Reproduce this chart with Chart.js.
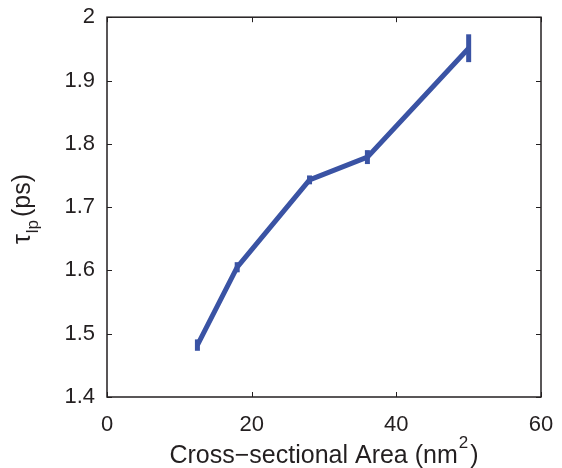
<!DOCTYPE html>
<html>
<head>
<meta charset="utf-8">
<script src="https://cdn.jsdelivr.net/npm/chart.js@4/dist/chart.umd.min.js"></script>
<style>
  html, body { margin: 0; padding: 0; background: #fff; }
  #wrap { width: 562px; height: 468px; }
</style>
</head>
<body>
<div id="wrap"><canvas id="tau_area" width="562" height="468"></canvas></div>
<script>
// dados
const areas = [12.5, 18, 28, 36, 50];
const tauLp = [1.482, 1.605, 1.743, 1.779, 1.951];
const tauErr = [0.009, 0.008, 0.007, 0.011, 0.022];
const xTicks = [0, 20, 40, 60];
const yTicks = [1.4, 1.5, 1.6, 1.7, 1.8, 1.9, 2.0];

const lineColor = '#3a53a4';
const axisColor = '#231f20';
const fontFam = '"Liberation Sans", Arial, Helvetica, sans-serif';

document.addEventListener('DOMContentLoaded', () => {
  const ctx = document.getElementById('tau_area');

  // barras de erro verticais
  const errorBars = {
    id: 'errorBars',
    afterDatasetsDraw(chart) {
      const c = chart.ctx, xs = chart.scales.x, ys = chart.scales.y;
      c.save();
      c.strokeStyle = lineColor;
      c.lineWidth = 5;
      areas.forEach((a, i) => {
        const px = xs.getPixelForValue(a);
        c.beginPath();
        c.moveTo(px, ys.getPixelForValue(tauLp[i] - tauErr[i]));
        c.lineTo(px, ys.getPixelForValue(tauLp[i] + tauErr[i]));
        c.stroke();
      });
      c.restore();
    }
  };

  // caixa estilo MATLAB, ticks para dentro e títulos com sub/sobrescrito
  const matlabBox = {
    id: 'matlabBox',
    afterDraw(chart) {
      const c = chart.ctx, a = chart.chartArea, xs = chart.scales.x, ys = chart.scales.y;
      const tl = 5;
      c.save();
      c.strokeStyle = axisColor;
      c.lineWidth = 1.5;
      c.strokeRect(a.left, a.top, a.right - a.left, a.bottom - a.top);
      c.lineWidth = 1;
      c.beginPath();
      xTicks.forEach(v => {
        const px = Math.round(xs.getPixelForValue(v)) + 0.5;
        c.moveTo(px, a.bottom); c.lineTo(px, a.bottom - tl);
        c.moveTo(px, a.top); c.lineTo(px, a.top + tl);
      });
      yTicks.forEach(v => {
        const py = Math.round(ys.getPixelForValue(v)) + 0.5;
        c.moveTo(a.left, py); c.lineTo(a.left + tl, py);
        c.moveTo(a.right, py); c.lineTo(a.right - tl, py);
      });
      c.stroke();

      c.fillStyle = axisColor;
      c.textBaseline = 'alphabetic';
      const big = '25px ' + fontFam, small = '17px ' + fontFam;
      // título do eixo x
      const main = 'Cross\u2212sectional Area (nm';
      c.font = big;
      const w1 = c.measureText(main).width;
      const w3 = c.measureText(')').width;
      c.font = small;
      const w2 = c.measureText('2').width;
      const cx = (a.left + a.right) / 2;
      const x0 = cx - (w1 + w2 + w3 + 3) / 2;
      const by = 463;
      c.textAlign = 'left';
      c.font = big;
      c.fillText(main, x0, by);
      c.fillText(')', x0 + w1 + w2 + 3, by);
      c.font = small;
      c.fillText('2', x0 + w1 + 1, by - 15);

      // título do eixo y (rotacionado)
      c.translate(30, 209);
      c.rotate(-Math.PI / 2);
      c.font = big;
      const t1 = c.measureText('\u03c4').width;
      const t3 = c.measureText('(ps)').width;
      c.font = small;
      const t2 = c.measureText('lp').width;
      const tot = t1 + t2 + 4 + t3;
      const s = -tot / 2;
      c.font = big;
      c.fillText('\u03c4', s, 0);
      c.fillText('(ps)', s + t1 + t2 + 4, 0);
      c.font = small;
      c.fillText('lp', s + t1 + 1, 8);
      c.restore();
    }
  };

  new Chart(ctx, {
    type: 'line',
    data: {
      datasets: [{
        data: areas.map((a, i) => ({ x: a, y: tauLp[i] })),
        borderColor: lineColor,
        backgroundColor: 'transparent',
        borderWidth: 5,
        lineTension: 0,
        pointRadius: 0,
        borderJoinStyle: 'miter',
      }],
    },
    options: {
      responsive: false,
      animation: false,
      layout: { padding: { top: 17, right: 21, left: 0, bottom: 0 } },
      scales: {
        x: {
          type: 'linear',
          min: 0, max: 60,
          afterBuildTicks: s => { s.ticks = xTicks.map(v => ({ value: v })); },
          afterFit: s => { s.height = 71; },
          grid: { display: false },
          border: { display: false },
          ticks: {
            color: axisColor,
            padding: 7,
            font: { size: 22, family: fontFam },
            maxRotation: 0,
          },
        },
        y: {
          min: 1.4, max: 2.0,
          afterBuildTicks: s => { s.ticks = yTicks.map(v => ({ value: v })); },
          afterFit: s => { s.width = 107; },
          grid: { display: false },
          border: { display: false },
          ticks: {
            color: axisColor,
            padding: 4,
            font: { size: 22, family: fontFam },
            callback: v => String(Number(v.toFixed(1))),
          },
        },
      },
      plugins: {
        legend: { display: false },
        tooltip: { enabled: false },
      },
    },
    plugins: [errorBars, matlabBox],
  });
});
</script>
</body>
</html>
